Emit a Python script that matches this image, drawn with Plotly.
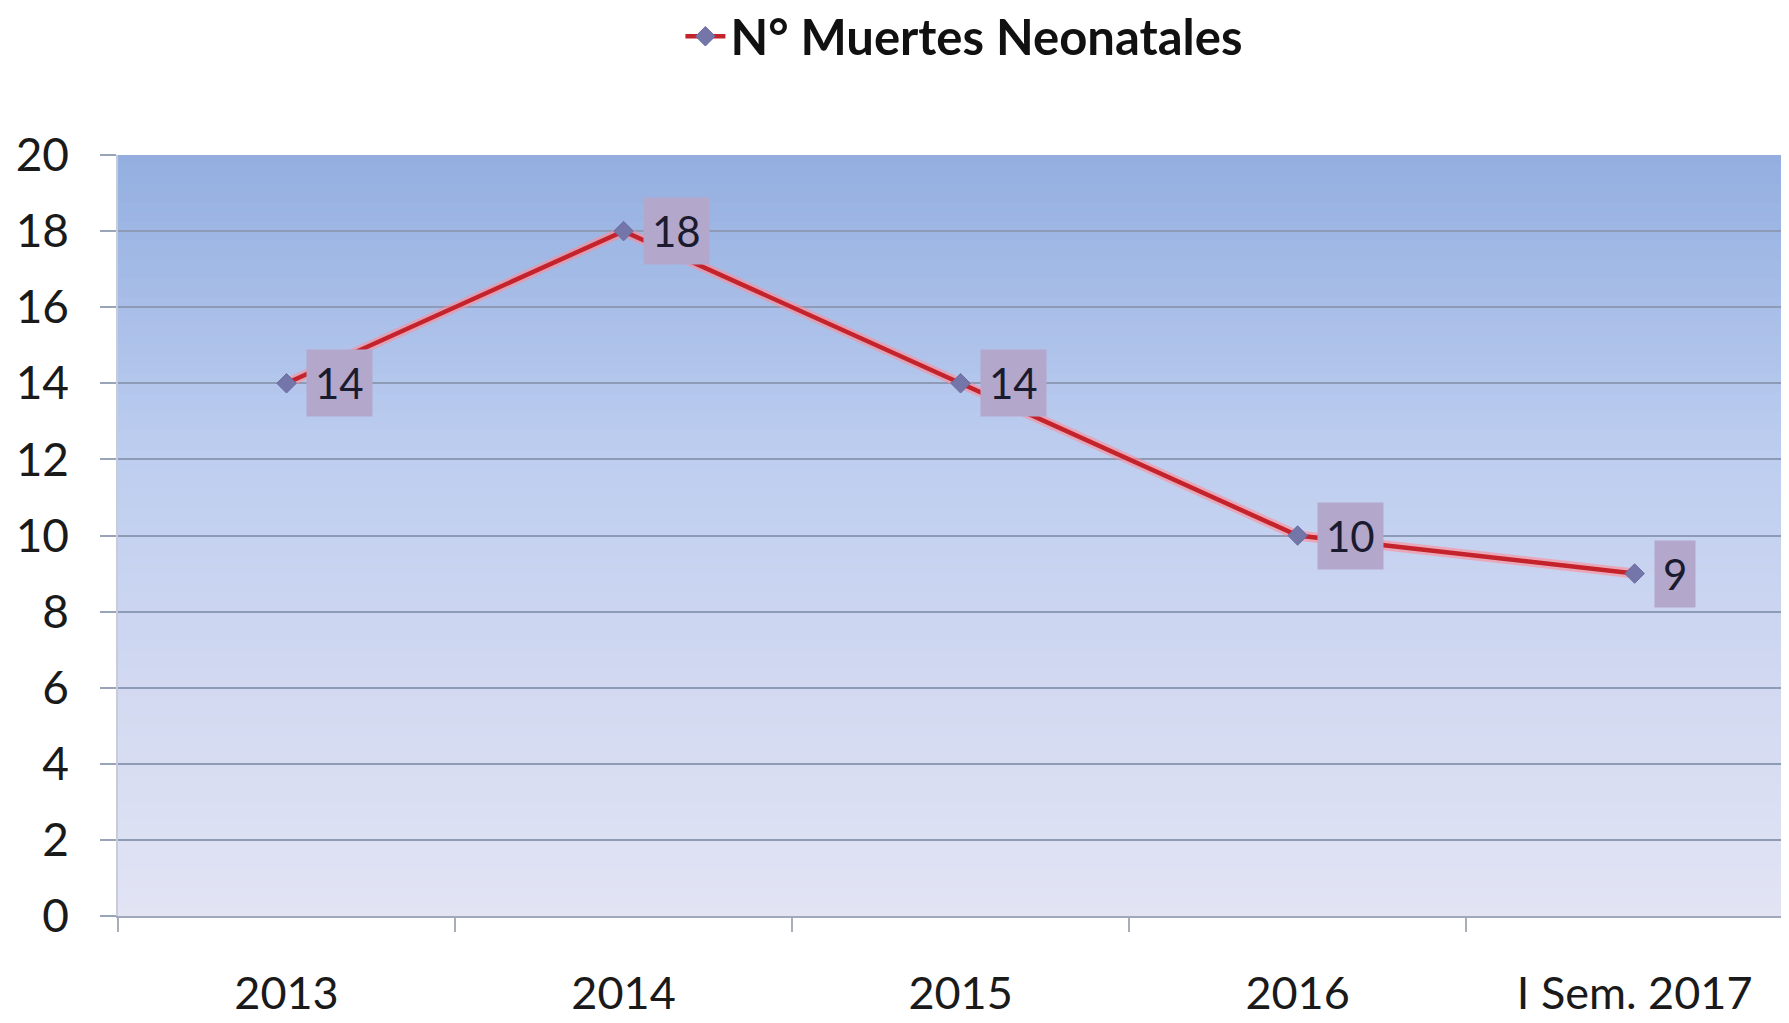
import plotly.graph_objects as go

categories = ["2013", "2014", "2015", "2016", "I Sem. 2017"]
deaths = [14, 18, 14, 10, 9]
y_ticks = [0, 2, 4, 6, 8, 10, 12, 14, 16, 18, 20]
series_name = "N° Muertes Neonatales"

FONT = "Lato, 'Open Sans', sans-serif"

fig = go.Figure()

# soft halo under the line
fig.add_trace(go.Scatter(
    x=categories, y=deaths, mode="lines",
    line=dict(color="rgba(255,140,150,0.6)", width=10),
    hoverinfo="skip", showlegend=False,
))
fig.add_trace(go.Scatter(
    x=categories, y=deaths, mode="lines+markers", name=series_name,
    line=dict(color="#c4232b", width=4.5),
    marker=dict(symbol="diamond", size=15, color="#7476aa",
                line=dict(color="#6a6ca0", width=1)),
))

# data labels (category positions by index on the category axis)
for i, v in enumerate(deaths):
    fig.add_annotation(
        x=i, y=v, text=str(v), showarrow=False,
        xanchor="left", yanchor="middle", xshift=19,
        font=dict(family=FONT, size=42, color="#1b1b30"),
        bgcolor="#b3a7cb", borderpad=8, height=50,
    )

# vertical gradient background
top = (147, 174, 224)
mid1 = (190, 206, 240)
mid2 = (210, 217, 241)
bot = (226, 228, 244)
stops = [(0.0, bot), (0.3, mid2), (0.6, mid1), (1.0, top)]

def col_at(t):
    for (t0, c0), (t1, c1) in zip(stops[:-1], stops[1:]):
        if t0 <= t <= t1:
            f = (t - t0) / (t1 - t0)
            return "rgb(%d,%d,%d)" % tuple(round(a + (b - a) * f) for a, b in zip(c0, c1))
    return "rgb(%d,%d,%d)" % top

n = 80
shapes = []
for i in range(n):
    y0 = i / n
    y1 = (i + 1) / n + 0.002
    shapes.append(dict(
        type="rect", xref="x domain", yref="y domain",
        x0=0, x1=1, y0=y0, y1=min(y1, 1),
        fillcolor=col_at((i + 0.5) / n), line=dict(width=0), layer="below",
    ))

fig.update_layout(
    width=1781, height=1015,
    margin=dict(l=110, r=0, t=147, b=107, autoexpand=False),
    paper_bgcolor="white", plot_bgcolor="white",
    font=dict(family=FONT, color="#1a1a1a"),
    shapes=shapes,
    showlegend=True,
    legend=dict(
        orientation="h", xref="container", yref="container",
        x=0.537, xanchor="center", y=0.972, yanchor="middle",
        font=dict(family=FONT, size=49, color="#111111", weight="bold"),
        bgcolor="rgba(0,0,0,0)", itemwidth=40,
    ),
    xaxis=dict(
        type="category", categoryorder="array", categoryarray=categories,
        range=[-0.5, 4.458], showgrid=False, automargin=False,
        tickson="boundaries", ticks="outside", ticklen=14, tickwidth=1.5,
        tickcolor="#a8adb8", showline=True, linecolor="#a0a8bb", linewidth=1.5,
        tickfont=dict(family=FONT, size=45, color="#1a1a1a"),
        ticklabelstandoff=37, zeroline=False, fixedrange=True,
    ),
    yaxis=dict(
        range=[0, 20], tickvals=y_ticks, showgrid=True, automargin=False,
        gridcolor="#8d9bb6", gridwidth=1.5,
        ticks="outside", ticklen=16, tickwidth=1.5, tickcolor="#9aa4b8",
        showline=True, linecolor="#c8ccd6", linewidth=1.5,
        tickfont=dict(family=FONT, size=46, color="#1a1a1a"),
        ticklabelstandoff=22, zeroline=False, fixedrange=True,
    ),
)

fig.write_html("out.html")
